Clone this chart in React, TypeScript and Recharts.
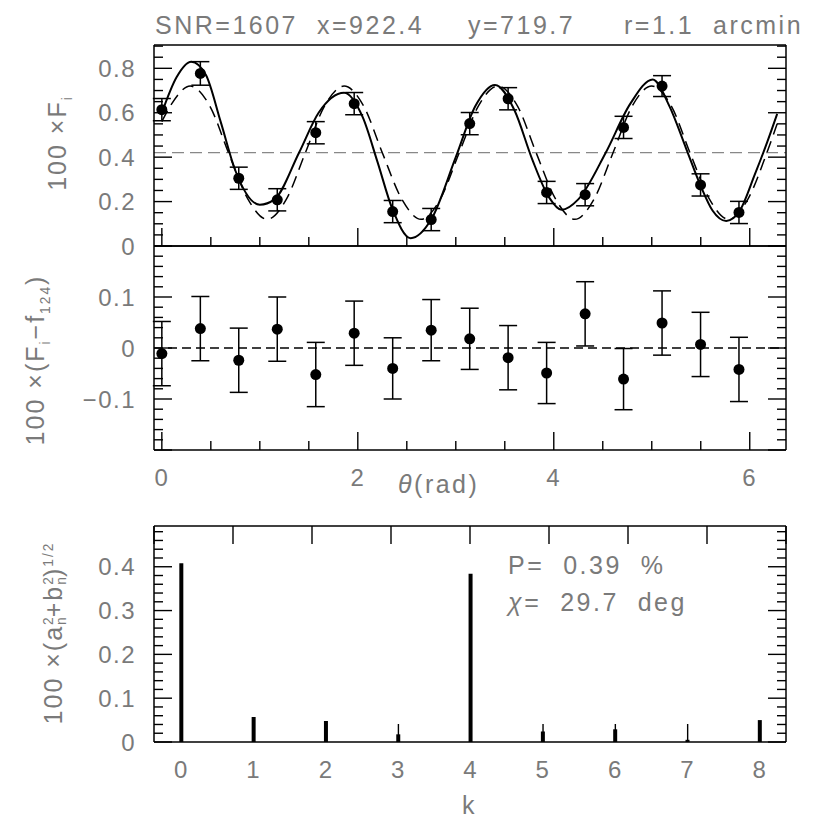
import React from 'react'
import {
  ComposedChart,
  Line,
  Scatter,
  ErrorBar,
  Bar,
  XAxis,
  YAxis,
  ReferenceLine,
} from 'recharts'

// ---- data ----
const theta = [0, 0.393, 0.785, 1.178, 1.571, 1.963, 2.356, 2.749, 3.142, 3.534, 3.927, 4.32, 4.712, 5.105, 5.498, 5.89]
const flux = [0.614, 0.777, 0.305, 0.208, 0.51, 0.641, 0.155, 0.119, 0.551, 0.663, 0.241, 0.231, 0.534, 0.72, 0.275, 0.151]
const fluxErr = [0.05, 0.053, 0.05, 0.05, 0.05, 0.05, 0.05, 0.05, 0.05, 0.05, 0.05, 0.05, 0.05, 0.047, 0.05, 0.05]
const resid = [-0.011, 0.038, -0.024, 0.037, -0.052, 0.029, -0.04, 0.035, 0.018, -0.019, -0.049, 0.067, -0.061, 0.049, 0.007, -0.042]
const residErr = [0.063, 0.063, 0.063, 0.063, 0.063, 0.063, 0.06, 0.06, 0.06, 0.063, 0.06, 0.063, 0.06, 0.063, 0.063, 0.063]

// solid fitted curve, sampled by eye
const fitTheta = [0, 0.15, 0.3, 0.45, 0.6, 0.75, 1.0, 1.15, 1.4, 1.6, 1.86, 2.05, 2.2, 2.35, 2.54, 2.75, 3.0, 3.2, 3.4, 3.6, 3.78, 3.95, 4.08, 4.25, 4.53, 4.78, 5.01, 5.18, 5.35, 5.5, 5.62, 5.76, 5.9, 6.05, 6.18, 6.28]
const fitVal = [0.6, 0.76, 0.83, 0.77, 0.56, 0.34, 0.186, 0.21, 0.42, 0.6, 0.69, 0.58, 0.38, 0.17, 0.035, 0.12, 0.4, 0.63, 0.725, 0.61, 0.39, 0.22, 0.163, 0.21, 0.42, 0.64, 0.75, 0.63, 0.44, 0.27, 0.16, 0.113, 0.16, 0.32, 0.47, 0.595]

// dashed model curve, sampled by eye
const modelTheta = [0, 0.1, 0.29, 0.49, 0.68, 0.88, 1.075, 1.27, 1.465, 1.66, 1.86, 2.06, 2.25, 2.45, 2.645, 2.84, 3.035, 3.23, 3.43, 3.63, 3.82, 4.02, 4.215, 4.41, 4.605, 4.8, 5.0, 5.2, 5.39, 5.59, 5.785, 5.98, 6.175, 6.28]
const modelVal = [0.56, 0.64, 0.72, 0.63, 0.42, 0.21, 0.12, 0.21, 0.42, 0.63, 0.72, 0.63, 0.42, 0.21, 0.12, 0.21, 0.42, 0.63, 0.72, 0.63, 0.42, 0.21, 0.12, 0.21, 0.42, 0.63, 0.72, 0.63, 0.42, 0.21, 0.12, 0.21, 0.42, 0.55]
const meanLevel = 0.42

const harmonics = [0, 1, 2, 3, 4, 5, 6, 7, 8]
const amplitude = [0.408, 0.057, 0.048, 0.0175, 0.384, 0.024, 0.029, 0.005, 0.05]

const thetaLabels = [0, 2, 4, 6]
const fluxLabels = [0, 0.2, 0.4, 0.6, 0.8]
const residLabels = [-0.1, 0, 0.1]
const ampLabels = [0, 0.1, 0.2, 0.3, 0.4]

// ---- layout ----
const W = 830
const H = 830
const LEFT = 154
const RIGHT = 44
const GREY = '#7a7a7a'
const FONT = '"Liberation Sans", Arial, sans-serif'

const range = (a: number, b: number, step: number) => {
  const out: number[] = []
  for (let v = a; v <= b + 1e-9; v += step) out.push(Math.round(v * 1000) / 1000)
  return out
}
const near = (list: number[], v: number) => list.some((m) => Math.abs(m - v) < 1e-6)
const fmt = (v: number) => String(v).replace('-', '\u2212')

type Side = 'bottom' | 'top' | 'left' | 'right'

function tickMaker(side: Side, major: number[], labels: number[] = []) {
  return (props: any) => {
    const { x, y, payload } = props
    const v = payload.value
    const len = near(major, v) ? 18 : 9
    const dx = side === 'left' ? len : side === 'right' ? -len : 0
    const dy = side === 'bottom' ? -len : side === 'top' ? len : 0
    return (
      <g>
        <line x1={x} y1={y} x2={x + dx} y2={y + dy} stroke="#000" strokeWidth={1.4} />
        {near(labels, v) && (
          <text
            x={side === 'left' ? x - 18 : x}
            y={side === 'bottom' ? y + 27 : y}
            textAnchor={side === 'left' ? 'end' : 'middle'}
            dominantBaseline="central"
            fontFamily={FONT}
            fontSize={24}
            letterSpacing={1.5}
            fill={GREY}
          >
            {fmt(v)}
          </text>
        )}
      </g>
    )
  }
}

interface FrameCfg {
  xKey: string
  xDomain: [number, number]
  xTicks: number[]
  xMajor: number[]
  xLabels: number[]
  yDomain: [number, number]
  yTicks: number[]
  yMajor: number[]
  yLabels: number[]
}

const axisLine = { stroke: '#000', strokeWidth: 1.5 }

// each axis is 1px thick so that Recharts still draws it
function frameAxes(c: FrameCfg) {
  const common = {
    allowDataOverflow: true,
    interval: 0 as const,
    tickSize: 0,
    tickMargin: 0,
    tickLine: false,
    axisLine,
  }
  return [
    <XAxis key="xb" xAxisId={0} dataKey={c.xKey} type="number" orientation="bottom" domain={c.xDomain} ticks={c.xTicks} height={1} tick={tickMaker('bottom', c.xMajor, c.xLabels)} {...common} />,
    <XAxis key="xt" xAxisId="top" type="number" orientation="top" domain={c.xDomain} ticks={c.xTicks} height={1} tick={tickMaker('top', c.xMajor)} {...common} />,
    <YAxis key="yl" yAxisId={0} type="number" orientation="left" domain={c.yDomain} ticks={c.yTicks} width={1} tick={tickMaker('left', c.yMajor, c.yLabels)} {...common} />,
    <YAxis key="yr" yAxisId="right" type="number" orientation="right" domain={c.yDomain} ticks={c.yTicks} width={1} tick={tickMaker('right', c.yMajor)} {...common} />,
  ]
}

const margin = (top: number, bottom: number) => ({ top: top - 1, bottom: H - bottom - 1, left: LEFT - 1, right: RIGHT - 1 })

const dot = (p: any) => <circle cx={p.cx} cy={p.cy} r={5.5} fill="#000" />

const thetaDomain: [number, number] = [-0.08, 6.37]
const thetaTicks = range(0, 6, 0.5)

function VLabel({ cx, cy, children }: { cx: number; cy: number; children: React.ReactNode }) {
  return (
    <div
      style={{
        position: 'absolute',
        left: cx,
        top: cy,
        transform: 'translate(-50%, -50%) rotate(-90deg)',
        whiteSpace: 'nowrap',
        fontSize: 25,
        lineHeight: 1,
        letterSpacing: 2,
        color: GREY,
      }}
    >
      {children}
    </div>
  )
}

const Stack = ({ sup, sub }: { sup: string; sub: string }) => (
  <span style={{ display: 'inline-flex', flexDirection: 'column', fontSize: '0.55em', lineHeight: 1, verticalAlign: 'middle', letterSpacing: 0 }}>
    <span>{sup}</span>
    <span>{sub}</span>
  </span>
)

const Abs = ({ x, y, children, size = 25 }: { x: number; y: number; children: React.ReactNode; size?: number }) => (
  <div style={{ position: 'absolute', left: x, top: y, transform: 'translateY(-50%)', fontSize: size, lineHeight: 1, color: GREY, whiteSpace: 'nowrap', letterSpacing: 2.5 }}>
    {children}
  </div>
)

const layer: React.CSSProperties = { position: 'absolute', left: 0, top: 0 }

export default function App() {
  const fluxData = theta.map((x, i) => ({ x, y: flux[i], e: fluxErr[i] }))
  const residData = theta.map((x, i) => ({ x, y: resid[i], e: residErr[i] }))
  const fitData = fitTheta.map((x, i) => ({ x, y: fitVal[i] }))
  const modelData = modelTheta.map((x, i) => ({ x, y: modelVal[i] }))
  const barData = harmonics.map((k, i) => ({ k, amp: amplitude[i] }))

  return (
    <div style={{ position: 'absolute', left: 0, top: 0, width: W, height: H, background: '#fff', fontFamily: FONT }}>
      {/* top panel: flux vs angle */}
      <div style={layer}>
        <ComposedChart width={W} height={H} margin={margin(45, 246)}>
          {frameAxes({
            xKey: 'x',
            xDomain: thetaDomain,
            xTicks: thetaTicks,
            xMajor: thetaLabels,
            xLabels: [],
            yDomain: [0, 0.905],
            yTicks: range(0, 0.9, 0.05),
            yMajor: fluxLabels,
            yLabels: fluxLabels,
          })}
          <ReferenceLine y={meanLevel} stroke="#888" strokeWidth={1.3} strokeDasharray="12 6" />
          <Line data={modelData} dataKey="y" type="monotone" stroke="#000" strokeWidth={1.5} strokeDasharray="12 7" dot={false} isAnimationActive={false} />
          <Line data={fitData} dataKey="y" type="monotone" stroke="#000" strokeWidth={2} dot={false} isAnimationActive={false} />
          <Scatter data={fluxData} dataKey="y" shape={dot} isAnimationActive={false}>
            <ErrorBar dataKey="e" direction="y" width={9} stroke="#000" strokeWidth={1.5} isAnimationActive={false} />
          </Scatter>
        </ComposedChart>
      </div>

      {/* middle panel: residuals */}
      <div style={layer}>
        <ComposedChart width={W} height={H} margin={margin(246, 450)}>
          {frameAxes({
            xKey: 'x',
            xDomain: thetaDomain,
            xTicks: thetaTicks,
            xMajor: thetaLabels,
            xLabels: thetaLabels,
            yDomain: [-0.2, 0.2],
            yTicks: range(-0.2, 0.2, 0.02),
            yMajor: [-0.2, -0.1, 0, 0.1, 0.2],
            yLabels: residLabels,
          })}
          <ReferenceLine y={0} stroke="#000" strokeWidth={1.5} strokeDasharray="9 5" />
          <Scatter data={residData} dataKey="y" shape={dot} isAnimationActive={false}>
            <ErrorBar dataKey="e" direction="y" width={9} stroke="#000" strokeWidth={1.5} isAnimationActive={false} />
          </Scatter>
        </ComposedChart>
      </div>

      {/* bottom panel: harmonic amplitudes */}
      <div style={layer}>
        <ComposedChart width={W} height={H} data={barData} margin={margin(526, 742)}>
          {frameAxes({
            xKey: 'k',
            xDomain: [-0.38, 8.36],
            xTicks: harmonics,
            xMajor: harmonics,
            xLabels: harmonics,
            yDomain: [0, 0.493],
            yTicks: range(0, 0.48, 0.02),
            yMajor: ampLabels,
            yLabels: ampLabels,
          })}
          <Bar dataKey="amp" barSize={4} fill="#000" isAnimationActive={false} />
        </ComposedChart>
      </div>

      {/* title */}
      <Abs x={155} y={25}>SNR=1607</Abs>
      <Abs x={317} y={25}>x=922.4</Abs>
      <Abs x={468} y={25}>y=719.7</Abs>
      <Abs x={624} y={25}>r=1.1&nbsp; arcmin</Abs>

      {/* axis titles */}
      <VLabel cx={60} cy={143}>
        100 ×F<sub style={{ fontSize: '0.55em' }}>i</sub>
      </VLabel>
      <VLabel cx={38} cy={360}>
        100 ×(F<sub style={{ fontSize: '0.55em' }}>i</sub>−f<sub style={{ fontSize: '0.55em' }}>124</sub>)
      </VLabel>
      <VLabel cx={55} cy={633}>
        100 ×(a<Stack sup="2" sub="n" />+b<Stack sup="2" sub="n" />)<sup style={{ fontSize: '0.55em' }}>1/2</sup>
      </VLabel>
      <Abs x={398} y={484}>
        <i>θ</i>(rad)
      </Abs>
      <Abs x={462} y={805}>k</Abs>

      {/* annotations */}
      <Abs x={508} y={565}>P=&nbsp; 0.39&nbsp; %</Abs>
      <Abs x={508} y={602}>
        <i>χ</i>=&nbsp; 29.7&nbsp; deg
      </Abs>
    </div>
  )
}
